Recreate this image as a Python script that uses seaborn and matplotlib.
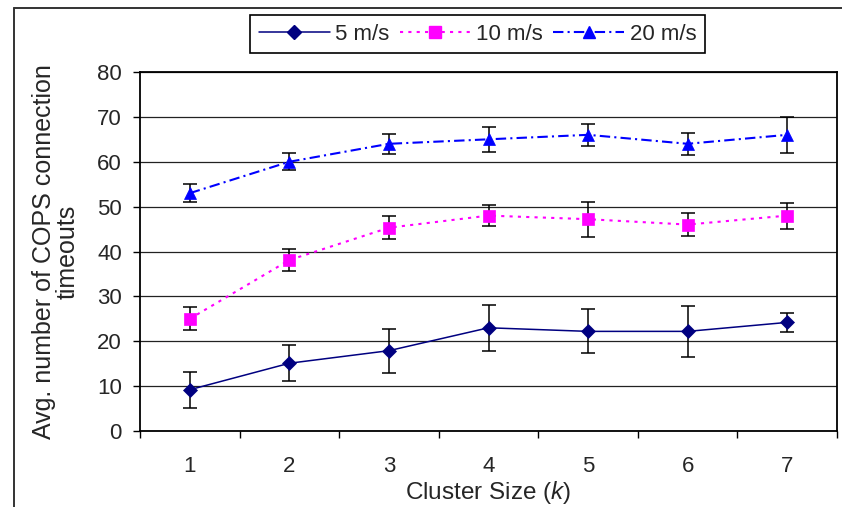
"""
Avg. number of COPS connection timeouts vs cluster size, three node speeds.
"""

import numpy as np
import pandas as pd
import seaborn as sns
import matplotlib.pyplot as plt
from matplotlib.lines import Line2D

# ------------------------------------------------- DATA ------------------------------------------------- #

cluster_size = [1, 2, 3, 4, 5, 6, 7]
series_names = ['5 m/s', '10 m/s', '20 m/s']

speed_5 = [9.2, 15.1, 17.9, 23.0, 22.2, 22.2, 24.2]
err_5 = [4.0, 4.0, 4.9, 5.1, 4.9, 5.7, 2.2]

speed_10 = [25.0, 38.1, 45.3, 48.0, 47.2, 46.0, 48.0]
err_10 = [2.6, 2.4, 2.6, 2.3, 3.9, 2.6, 2.9]

speed_20 = [53.0, 60.0, 64.0, 65.0, 66.0, 64.0, 66.0]
err_20 = [2.0, 1.9, 2.2, 2.8, 2.5, 2.5, 4.0]

y_ticks = [0, 10, 20, 30, 40, 50, 60, 70, 80]

# ------------------------------------------------ STYLES ------------------------------------------------ #

styles = {
    '5 m/s': dict(color='#000080', marker='D', ms=7, lw=1.1, ls='-'),
    '10 m/s': dict(color='#FF00FF', marker='s', ms=8.5, lw=1.5, ls=(0, (1.5, 2.5))),
    '20 m/s': dict(color='#0000FF', marker='^', ms=9, lw=1.5, ls=(0, (5, 2, 1, 2))),
}

W, H = 842, 507

# ------------------------------------------------- PLOT ------------------------------------------------- #

sns.set_style('white')
plt.rcParams['font.family'] = ['Liberation Sans', 'DejaVu Sans']
plt.rcParams['mathtext.fontset'] = 'custom'
plt.rcParams['mathtext.it'] = 'Liberation Sans:italic'
plt.rcParams['mathtext.rm'] = 'Liberation Sans'

df = pd.DataFrame({
    'k': cluster_size * 3,
    'value': speed_5 + speed_10 + speed_20,
    'err': err_5 + err_10 + err_20,
    'speed': np.repeat(series_names, len(cluster_size)),
})

fig = plt.figure(figsize=(W / 100, H / 100), dpi=100)
ax = fig.add_axes([140 / W, 1 - 431 / H, (837 - 140) / W, (431 - 72) / H])

handles = []
for name in series_names:
    sub = df[df['speed'] == name]
    st = styles[name]
    ax.errorbar(sub['k'], sub['value'], yerr=sub['err'], fmt='none', ecolor='black',
                elinewidth=1.1, capsize=4.7, capthick=1.1, zorder=3)
    sns.lineplot(data=sub, x='k', y='value', ax=ax, color=st['color'], marker=st['marker'],
                 markersize=st['ms'], markeredgecolor=st['color'], markeredgewidth=0.5,
                 linewidth=st['lw'], linestyle=st['ls'], legend=False, zorder=4)
    handles.append(Line2D([], [], color=st['color'], marker=st['marker'], markersize=st['ms'],
                          markeredgecolor=st['color'], linewidth=st['lw'], linestyle=st['ls']))

# axes
ax.set_xlim(0.5, 7.5)
ax.set_ylim(0, 80)
ax.set_yticks(y_ticks)
ax.set_xticks(cluster_size)
ax.set_xticks(np.arange(0.5, 7.6, 1), minor=True)
ax.tick_params(axis='x', which='major', length=0, pad=18, labelsize=16)
ax.tick_params(axis='x', which='minor', length=5, width=1, direction='out', color='black', bottom=True)
ax.tick_params(axis='y', length=5, width=1, direction='out', color='black', pad=8, labelsize=16, left=True)
ax.yaxis.grid(True, color='#222222', linewidth=0.9)
ax.set_axisbelow(True)
for sp in ax.spines.values():
    sp.set_color('black')
    sp.set_linewidth(1.3)

ax.set_xlabel('Cluster Size ($\\mathit{k}$)', fontsize=17.5)
ax.xaxis.set_label_coords(0.5, -0.133)
ax.xaxis.label.set_va('top')
ax.set_ylabel('Avg. number of COPS connection\ntimeouts', fontsize=18, linespacing=1.0)
ax.yaxis.set_label_coords((80 - 140) / (837 - 140), 0.5)

leg = fig.legend(handles, series_names, loc='center', bbox_to_anchor=(477.5 / W, 1 - 34 / H),
                 ncol=3, frameon=True, fancybox=False, edgecolor='black', framealpha=1,
                 handlelength=3.2, handletextpad=0.25, columnspacing=0.45, borderpad=0.4,
                 fontsize=16)
leg.get_frame().set_linewidth(1.2)

# outer chart frame
fig.add_artist(Line2D([14 / W, 14 / W], [0, 1 - 8 / H], color='#333333', linewidth=1.4))
fig.add_artist(Line2D([14 / W, 1], [1 - 8 / H, 1 - 8 / H], color='#333333', linewidth=1.4))

plt.savefig('out.png', dpi=100)
